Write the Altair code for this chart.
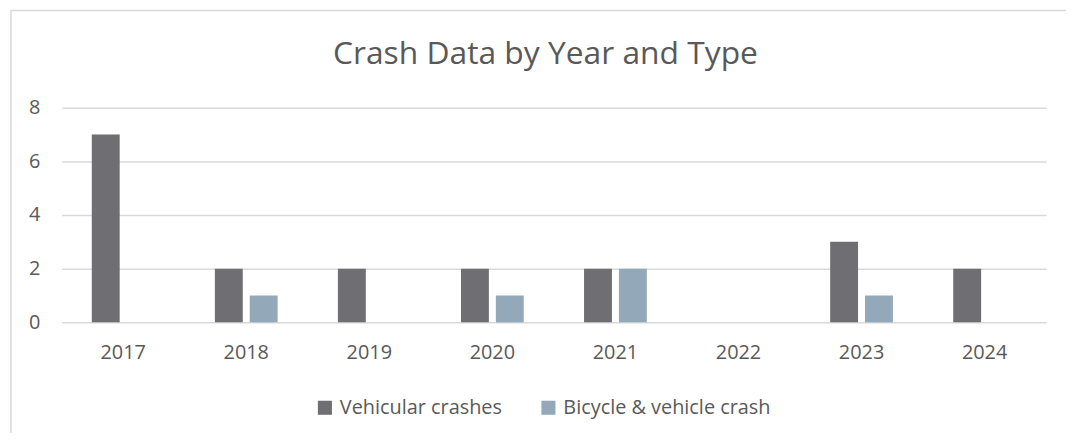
import altair as alt
import pandas as pd

years = ["2017", "2018", "2019", "2020", "2021", "2022", "2023", "2024"]
vehicular = [7, 2, 2, 2, 2, 0, 3, 2]
bicycle = [0, 1, 0, 1, 2, 0, 1, 0]
series_names = ["Vehicular crashes", "Bicycle & vehicle crash"]
series_colors = ["#6F6E73", "#93A9B9"]
y_ticks = [0, 2, 4, 6, 8]
title_text = "Crash Data by Year and Type"

rows = []
for y, v, b in zip(years, vehicular, bicycle):
    rows.append({"Year": y, "Series": series_names[0], "Value": v})
    rows.append({"Year": y, "Series": series_names[1], "Value": b})
df = pd.DataFrame(rows)

FONT = "Open Sans"
TXT = "#595959"

bars = alt.Chart(df).mark_bar().encode(
    x=alt.X("Year:N", sort=years,
            scale=alt.Scale(paddingInner=0.49, paddingOuter=0.245),
            axis=alt.Axis(title=None, labelAngle=0, ticks=False, domain=False,
                          labelFontSize=20, labelColor=TXT, labelFont=FONT,
                          labelPadding=20, grid=False)),
    xOffset=alt.XOffset("Series:N", sort=series_names,
                        scale=alt.Scale(paddingInner=0.2, paddingOuter=0)),
    y=alt.Y("Value:Q", scale=alt.Scale(domain=[0, 8], nice=False),
            axis=alt.Axis(title=None, values=y_ticks, ticks=False, domain=False,
                          labelFontSize=20, labelColor=TXT, labelFont=FONT,
                          labelPadding=22, gridColor="#D9D9D9", gridWidth=1.5)),
    color=alt.Color("Series:N", sort=series_names,
                    scale=alt.Scale(domain=series_names, range=series_colors),
                    legend=alt.Legend(title=None, orient="none", direction="horizontal",
                                      legendX=255, legendY=292,
                                      symbolType="square", symbolSize=200,
                                      symbolStrokeWidth=0, labelFontSize=20,
                                      labelColor=TXT, labelFont=FONT, labelOffset=5,
                                      labelLimit=0, columnPadding=36)),
)

frame = alt.Chart(pd.DataFrame({"k": [0]})).mark_rect(
    fill=None, stroke="#D9D9D9", strokeWidth=1.5
).encode(
    x=alt.value(-51), x2=alt.value(1100), y=alt.value(-98), y2=alt.value(400)
)

title = alt.Chart(pd.DataFrame({"t": [title_text]})).mark_text(
    font=FONT, fontSize=32, color=TXT, align="center", baseline="alphabetic"
).encode(
    text="t:N", x=alt.value(487), y=alt.value(-44)
)

chart = alt.layer(frame, bars, title).properties(
    width=991, height=216,
    autosize=alt.AutoSizeParams(type="none"),
    padding={"left": 54, "top": 99, "right": 20, "bottom": 110},
).configure_view(stroke=None)

chart.save("out.html", embed_options={"renderer": "svg", "actions": False})
